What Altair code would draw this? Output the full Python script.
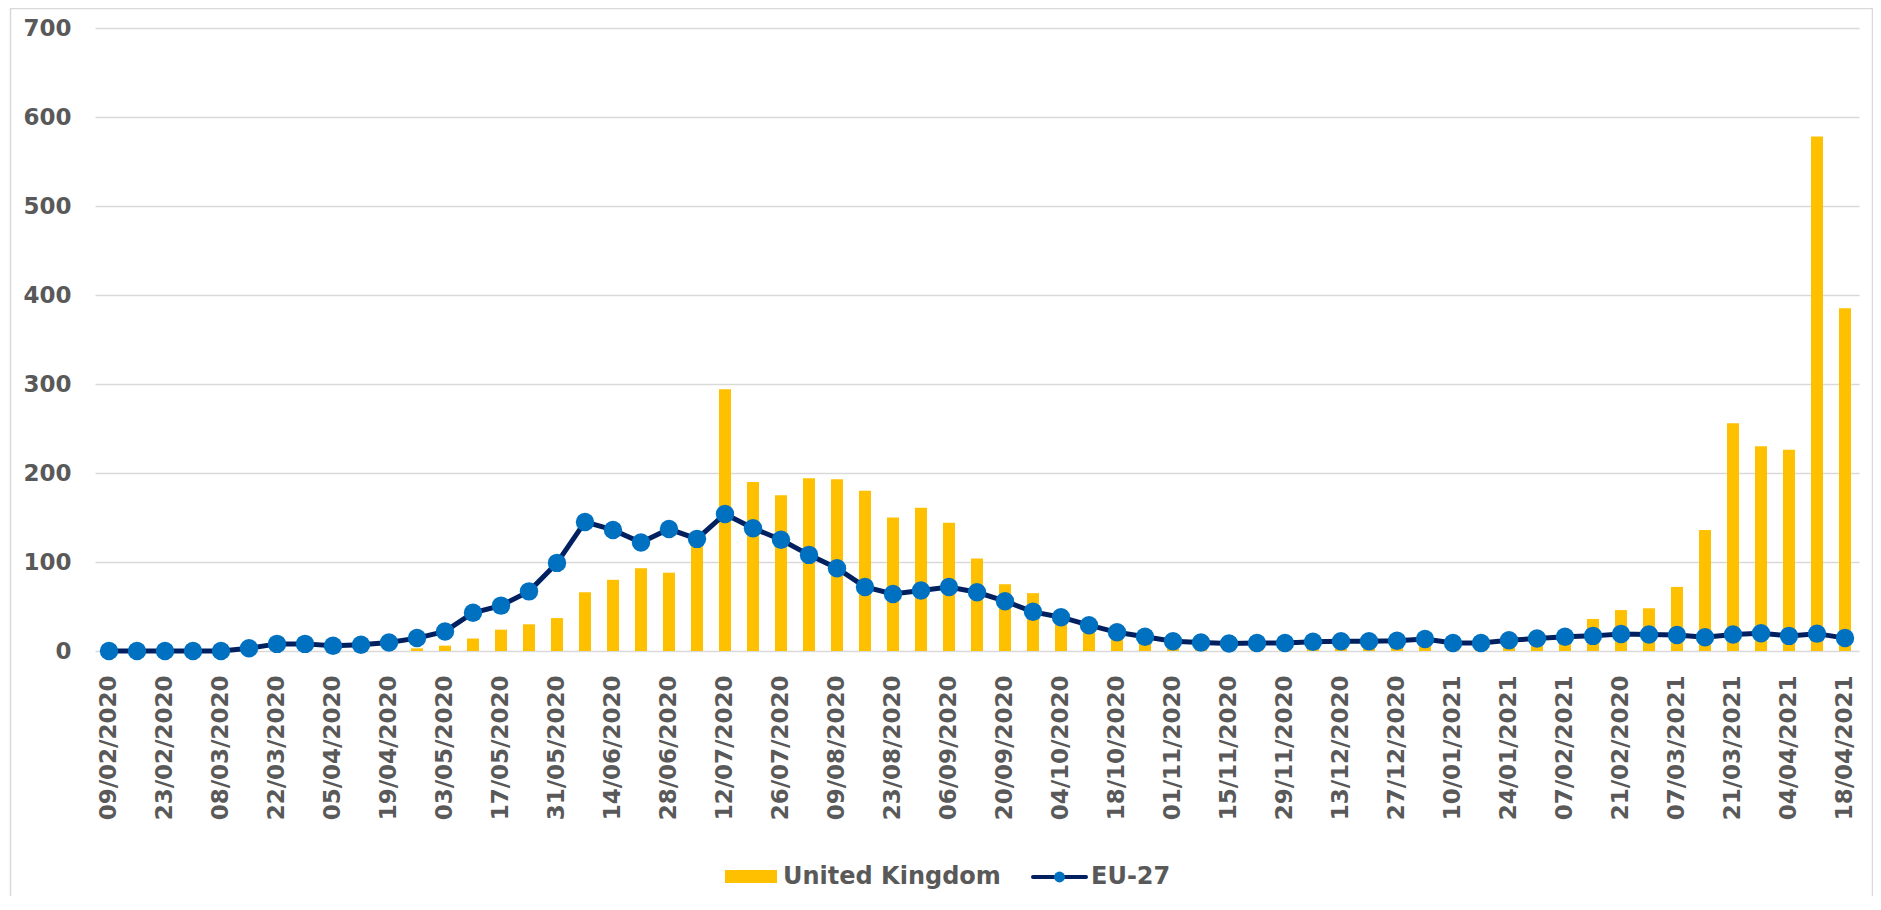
import altair as alt
import pandas as pd

weeks = [
    "09/02/2020", "16/02/2020", "23/02/2020", "01/03/2020", "08/03/2020", "15/03/2020",
    "22/03/2020", "29/03/2020", "05/04/2020", "12/04/2020", "19/04/2020", "26/04/2020",
    "03/05/2020", "10/05/2020", "17/05/2020", "24/05/2020", "31/05/2020", "07/06/2020",
    "14/06/2020", "21/06/2020", "28/06/2020", "05/07/2020", "12/07/2020", "19/07/2020",
    "26/07/2020", "02/08/2020", "09/08/2020", "16/08/2020", "23/08/2020", "30/08/2020",
    "06/09/2020", "13/09/2020", "20/09/2020", "27/09/2020", "04/10/2020", "11/10/2020",
    "18/10/2020", "25/10/2020", "01/11/2020", "08/11/2020", "15/11/2020", "22/11/2020",
    "29/11/2020", "06/12/2020", "13/12/2020", "20/12/2020", "27/12/2020", "03/01/2021",
    "10/01/2021", "17/01/2021", "24/01/2021", "31/01/2021", "07/02/2021", "14/02/2021",
    "21/02/2020", "28/02/2021", "07/03/2021", "14/03/2021", "21/03/2021", "28/03/2021",
    "04/04/2021", "11/04/2021", "18/04/2021",
]

united_kingdom = [
    0, 0, 0, 0, 0, 0, 0, 0, 0, 0, 0, 3,
    6, 14, 24, 30, 37, 66, 80, 93, 88, 120, 294, 190,
    175, 194, 193, 180, 150, 161, 144, 104, 75, 65, 36, 28,
    16, 10, 5, 3, 2, 2, 3, 3, 4, 5, 5, 9,
    5, 5, 7, 9, 13, 36, 46, 48, 72, 136, 256, 230,
    226, 578, 385,
]

eu_27 = [
    0, 0, 0, 0, 0, 3, 8, 8, 6, 7, 9.5, 14.5,
    22, 43, 51, 67, 99, 145, 136, 122, 137, 126, 154, 138,
    125, 108, 93, 72, 64, 68, 72, 66, 56, 44, 38, 29,
    21, 16, 11, 9.5, 8.5, 9, 9, 10.5, 11, 11, 11.5, 13.5,
    9, 9, 12, 14, 16, 17, 19, 18.5, 18, 15.5, 18.5, 20,
    17, 19.5, 14.5,
]

tick_weeks = weeks[::2]
y_ticks = [0, 100, 200, 300, 400, 500, 600, 700]
legend_labels = ["United Kingdom", "EU-27"]

UK_COLOR = "#FFC000"
LINE_COLOR = "#002060"
DOT_COLOR = "#0070C0"
TEXT_COLOR = "#595959"
FONT = "DejaVu Sans"

W, H = 1764, 623

df = pd.DataFrame({"week": weeks, "uk": united_kingdom, "eu": eu_27})

x_enc = alt.X(
    "week:N",
    sort=weeks,
    scale=alt.Scale(paddingInner=0, paddingOuter=0),
    axis=alt.Axis(
        values=tick_weeks,
        labelAngle=-90,
        labelAlign="right",
        labelBaseline="middle",
        labelPadding=24,
        labelOverlap=False,
        labelFont=FONT,
        labelFontWeight="bold",
        labelFontSize=23,
        labelColor=TEXT_COLOR,
        ticks=False,
        tickSize=0,
        domain=False,
        grid=False,
        title=None,
    ),
)

y_scale = alt.Scale(domain=[0, 700], nice=False, zero=True)

bars = alt.Chart(df).mark_bar(size=12, color=UK_COLOR).encode(
    x=x_enc,
    y=alt.Y(
        "uk:Q",
        scale=y_scale,
        axis=alt.Axis(
            values=y_ticks,
            grid=True,
            gridColor="#D9D9D9",
            gridWidth=1.3,
            ticks=False,
            tickSize=0,
            domain=False,
            labelPadding=24,
            labelFont=FONT,
            labelFontWeight="bold",
            labelFontSize=23,
            labelColor=TEXT_COLOR,
            title=None,
        ),
    ),
)

line = alt.Chart(df).mark_line(color=LINE_COLOR, strokeWidth=5).encode(
    x=alt.X("week:N", sort=weeks),
    y=alt.Y("eu:Q", scale=y_scale),
)

dots = alt.Chart(df).mark_circle(color=DOT_COLOR, size=340, opacity=1).encode(
    x=alt.X("week:N", sort=weeks),
    y=alt.Y("eu:Q", scale=y_scale),
)

# chart-area border
border = alt.Chart(pd.DataFrame({"k": [0]})).mark_rect(
    fillOpacity=0, stroke="#D9D9D9", strokeWidth=1.5
).encode(
    x=alt.value(-84.5), x2=alt.value(W + 13.5),
    y=alt.value(-19.5), y2=alt.value(H + 400),
)

# legend
uk_df = pd.DataFrame({"label": [legend_labels[0]]})
eu_df = pd.DataFrame({"label": [legend_labels[1]]})
LEG_Y = 849

uk_swatch = alt.Chart(uk_df).mark_rect(color=UK_COLOR).encode(
    x=alt.value(630), x2=alt.value(682), y=alt.value(LEG_Y - 7), y2=alt.value(LEG_Y + 6)
)
uk_text = alt.Chart(uk_df).mark_text(
    align="left", baseline="middle", font=FONT, fontWeight="bold", fontSize=24, color=TEXT_COLOR
).encode(x=alt.value(688), y=alt.value(LEG_Y), text="label:N")

eu_rule = alt.Chart(eu_df).mark_rule(color=LINE_COLOR, strokeWidth=4, strokeCap="round").encode(
    x=alt.value(938), x2=alt.value(991), y=alt.value(LEG_Y)
)
eu_dot = alt.Chart(eu_df).mark_circle(color=DOT_COLOR, size=120, opacity=1).encode(
    x=alt.value(964.5), y=alt.value(LEG_Y)
)
eu_text = alt.Chart(eu_df).mark_text(
    align="left", baseline="middle", font=FONT, fontWeight="bold", fontSize=24, color=TEXT_COLOR
).encode(x=alt.value(996), y=alt.value(LEG_Y), text="label:N")

chart = alt.layer(
    border, bars, line, dots, uk_swatch, uk_text, eu_rule, eu_dot, eu_text
).resolve_scale(y="shared").properties(
    width=W,
    height=H,
    background="white",
    autosize=alt.AutoSizeParams(type="none"),
    padding={"left": 87, "top": 20, "right": 14, "bottom": 245},
).configure_view(
    stroke="transparent"
)

chart.save("out.html", embed_options={"renderer": "svg", "actions": False})
